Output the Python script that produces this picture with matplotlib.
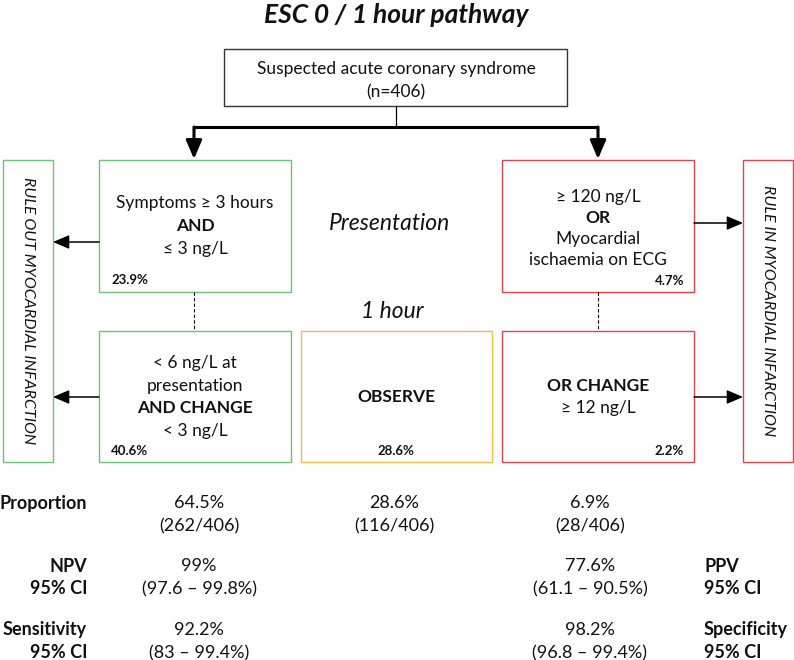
"""
ESC 0 / 1 hour pathway flowchart
"""
import matplotlib
matplotlib.use("Agg")
import matplotlib.pyplot as plt
from matplotlib.patches import Rectangle

plt.rcParams['font.family'] = ['Lato', 'DejaVu Sans']

# ── data ──
title = "ESC 0 / 1 hour pathway"
top_lines = ["Suspected acute coronary syndrome", "(n=406)"]
pres_out_lines = ["Symptoms \u2265 3 hours", "AND", "\u2264 3 ng/L"]
pres_in_lines = ["\u2265 120 ng/L", "OR", "Myocardial", "ischaemia on ECG"]
hour_out_lines = ["< 6 ng/L at", "presentation", "AND CHANGE", "< 3 ng/L"]
hour_in_lines = ["OR CHANGE", "\u2265 12 ng/L"]
pct_pres_out, pct_pres_in = "23.9%", "4.7%"
pct_hour_out, pct_observe, pct_hour_in = "40.6%", "28.6%", "2.2%"

left_labels = [("Proportion", ""), ("NPV", "95% CI"), ("Sensitivity", "95% CI")]
right_labels = [("", ""), ("PPV", "95% CI"), ("Specificity", "95% CI")]
col_out = [("64.5%", "(262/406)"), ("99%", "(97.6 \u2013 99.8%)"), ("92.2%", "(83 \u2013 99.4%)")]
col_obs = [("28.6%", "(116/406)"), ("", ""), ("", "")]
col_in = [("6.9%", "(28/406)"), ("77.6%", "(61.1 \u2013 90.5%)"), ("98.2%", "(96.8 \u2013 99.4%)")]

GREEN = '#6cc27a'
RED = '#e2444f'
ORANGE = '#f3bb4a'
DARK = '#333333'

fig = plt.figure(figsize=(7.94, 6.6), dpi=100)
ax = fig.add_axes([0, 0, 1, 1])
ax.set_xlim(0, 794)
ax.set_ylim(660, 0)
ax.axis('off')


def box(x0, y0, x1, y1, color, lw=1.0):
    ax.add_patch(Rectangle((x0, y0), x1 - x0, y1 - y0, fill=False,
                           edgecolor=color, lw=lw))


def lines(xc, ys, texts, bold_words=(), size=12.5):
    for y, t in zip(ys, texts):
        w = 'bold' if t in bold_words else 'normal'
        ax.text(xc, y, t, ha='center', va='center', fontsize=size,
                fontweight=w, color='#111')


def arrow(x0, y0, x1, y1, lw=1.1, scale=14):
    ax.annotate('', xy=(x1, y1), xytext=(x0, y0),
                arrowprops=dict(arrowstyle='-|>,head_length=0.7,head_width=0.3',
                                color='black', lw=lw, shrinkA=0, shrinkB=0,
                                mutation_scale=scale))


# title
ax.text(396, 15, title, ha='center', va='center', fontsize=19,
        fontweight='bold', fontstyle='italic', color='#111')

# top box
box(224, 49, 567, 106, DARK)
lines(396, [69, 92], top_lines)
ax.plot([396, 396], [106, 127], color='black', lw=0.9)
ax.plot([194, 598], [127, 127], color='black', lw=2.2, solid_capstyle='butt')
arrow(194, 127, 194, 159, lw=2.2, scale=16)
arrow(598, 127, 598, 159, lw=2.2, scale=16)

# side boxes
box(3, 160, 53, 462, GREEN)
box(743, 160, 793, 462, RED)
ax.text(28, 311, "RULE OUT MYOCARDIAL INFARCTION", rotation=-90, ha='center',
        va='center', fontsize=11.5, fontstyle='italic', color='#111')
ax.text(768, 311, "RULE IN MYOCARDIAL INFARCTION", rotation=-90, ha='center',
        va='center', fontsize=11.5, fontstyle='italic', color='#111')

# presentation row
box(99, 160, 291, 292, GREEN)
lines(195, [203, 226, 249], pres_out_lines, bold_words=("AND",))
ax.text(111, 280, pct_pres_out, ha='left', va='center', fontsize=9.5,
        fontweight='bold', color='#111')

box(502, 160, 694, 292, RED)
lines(598, [197, 218, 239, 260], pres_in_lines, bold_words=("OR",))
ax.text(684, 281, pct_pres_in, ha='right', va='center', fontsize=9.5,
        fontweight='bold', color='#111')

ax.text(390, 223, "Presentation", ha='center', va='center', fontsize=16.5,
        fontstyle='italic', color='#111')
ax.text(392, 312, "1 hour", ha='center', va='center', fontsize=16.5,
        fontstyle='italic', color='#111')

arrow(99, 242, 53, 242)
arrow(694, 223, 743, 223)

# dashed links
ax.plot([194, 194], [292, 331], color='black', lw=0.8, ls=(0, (3, 2)))
ax.plot([598, 598], [292, 331], color='black', lw=0.8, ls=(0, (3, 2)))

# 1 hour row
box(99, 331, 291, 462, GREEN)
lines(195, [363, 386, 408, 431], hour_out_lines, bold_words=("AND CHANGE",))
ax.text(111, 451, pct_hour_out, ha='left', va='center', fontsize=9.5,
        fontweight='bold', color='#111')

box(301, 331, 492, 462, ORANGE)
ax.text(396, 397, "OBSERVE", ha='center', va='center', fontsize=12.5,
        fontweight='bold', color='#111')
ax.text(396, 451, pct_observe, ha='center', va='center', fontsize=9.5,
        fontweight='bold', color='#111')

box(502, 331, 694, 462, RED)
lines(598, [386, 408], hour_in_lines, bold_words=("OR CHANGE",))
ax.text(684, 451, pct_hour_in, ha='right', va='center', fontsize=9.5,
        fontweight='bold', color='#111')

arrow(99, 397, 53, 397)
arrow(694, 397, 743, 397)

# statistics table
row_y = [(503, 526), (566, 589), (630, 653)]
for i, (y1, y2) in enumerate(row_y):
    for lab, y in zip(left_labels[i], (y1, y2)):
        ax.text(87, y, lab, ha='right', va='center', fontsize=13,
                fontweight='bold', color='#111')
    for lab, y in zip(right_labels[i], (y1, y2)):
        ax.text(704, y, lab, ha='left', va='center', fontsize=13,
                fontweight='bold', color='#111')
    for xc, col in ((199, col_out), (394, col_obs), (590, col_in)):
        for t, y in zip(col[i], (y1, y2)):
            ax.text(xc, y, t, ha='center', va='center', fontsize=13,
                    color='#111')

fig.savefig("out.png", dpi=100)
